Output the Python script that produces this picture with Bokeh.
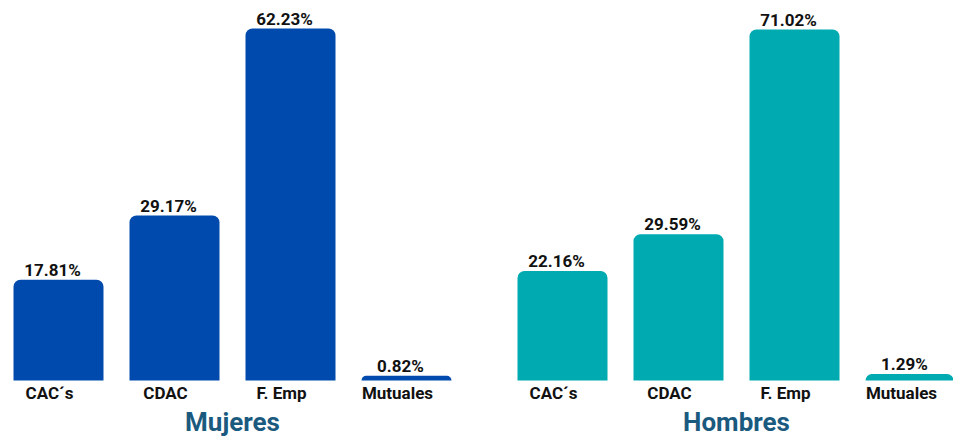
from bokeh.plotting import figure
from bokeh.models import ColumnDataSource, Range1d
from bokeh.layouts import row
from bokeh.core.properties import value
from bokeh.embed import file_html
from bokeh.resources import INLINE

categories = ["CAC´s", "CDAC", "F. Emp", "Mutuales"]
mujeres = [17.81, 29.17, 62.23, 0.82]
hombres = [22.16, 29.59, 71.02, 1.29]
panel_titles = ["Mujeres", "Hombres"]

FONT = value("Roboto")
HEIGHT = 437
BASE = 380  # pixel row of the bar baseline


def panel(vals, title, color, width, x_start, y_scale):
    n = len(categories)
    x_end = x_start + width / 116.0
    y_start = -(HEIGHT - BASE) / y_scale
    y_end = BASE / y_scale
    p = figure(width=width, height=HEIGHT, output_backend="svg", toolbar_location=None,
               x_range=Range1d(x_start, x_end), y_range=Range1d(y_start, y_end),
               min_border=0, outline_line_color=None)
    p.axis.visible = False
    p.grid.visible = False
    p.background_fill_color = "white"
    p.border_fill_color = "white"
    src = ColumnDataSource(dict(
        x=list(range(n)),
        top=vals,
        cat=categories,
        lab=[f"{v:.2f}%" for v in vals],
        zero=[0] * n,
    ))
    p.vbar(x="x", top="top", bottom=0, width=90 / 116.0, source=src,
           fill_color=color, line_color=None, border_radius=(7, 7, 0, 0))
    p.text(x="x", y="top", text="lab", source=src, text_font=FONT,
           text_font_style="bold", text_font_size="17px", text_color="#111111",
           text_align="center", text_baseline="middle", x_offset=-6, y_offset=-10)
    p.text(x="x", y="zero", text="cat", source=src, text_font=FONT,
           text_font_style="bold", text_font_size="17px", text_color="#111111",
           text_align="center", text_baseline="middle", x_offset=-9, y_offset=12)
    p.text(x=[(n - 1) / 2.0], y=[0], text=[title], text_font=FONT,
           text_font_style="bold", text_font_size="26px", text_color="#1b5a7f",
           text_align="center", text_baseline="middle", y_offset=41)
    return p


p1 = panel(mujeres, panel_titles[0], "#004aad", 480, -58 / 116.0, 352 / 62.23)
p2 = panel(hombres, panel_titles[1], "#00aab1", 473, -82 / 116.0, 351 / 71.02)

layout = row(p1, p2, spacing=0)
open("out.html", "w").write(file_html(layout, INLINE))
